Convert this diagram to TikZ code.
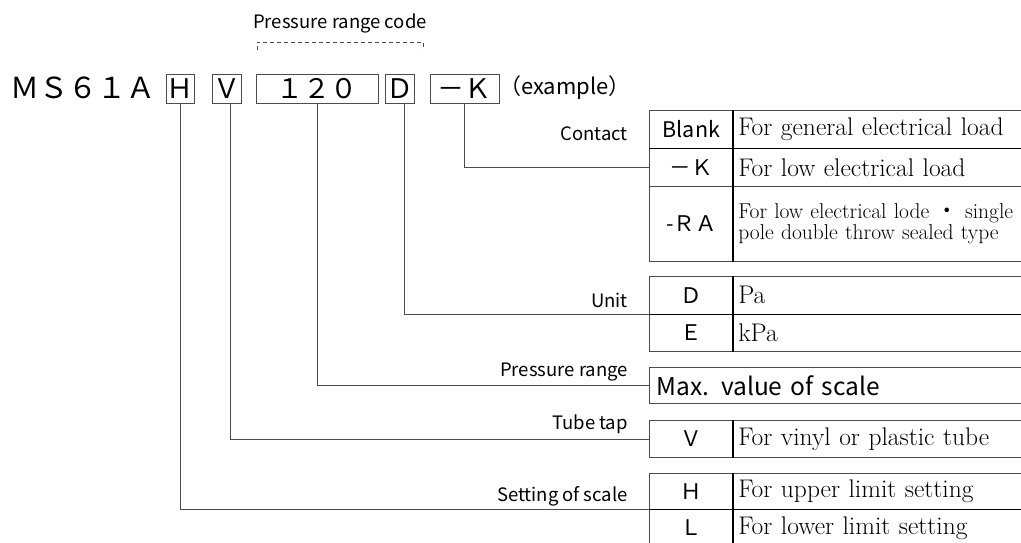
\documentclass[tikz,border=0pt]{standalone}
\usepackage{fontspec}
\setsansfont{Noto Sans CJK JP}
\newfontfamily\gothic{Noto Sans CJK JP}
\usetikzlibrary{positioning}

\tikzset{
  frame/.style={draw=black!70, line width=0.7pt},
  codebox/.style={frame, minimum height=29pt, inner sep=0pt, font=\gothic\fontsize{27}{27}\selectfont},
  lbl/.style={anchor=east, inner sep=0pt, font=\gothic\fontsize{18.5}{20}\selectfont},
  codecell/.style={frame, anchor=north west, minimum width=84pt, inner sep=0pt, font=\gothic\fontsize{21.5}{22}\selectfont},
  desccell/.style={frame, anchor=north west, minimum width=292pt, text width=282pt, inner xsep=5pt, inner ysep=0pt, align=left, font=\fontsize{25.5}{28}\selectfont},
  rowsep/.style={line width=1.4pt},
  leader/.style={draw=black!70, line width=0.7pt},
}

\begin{document}
\begin{tikzpicture}[x=1pt,y=-1pt]
\useasboundingbox (0,0) rectangle (1021,543);

% model code
\node[anchor=west, inner sep=0pt, font=\gothic\fontsize{29}{29}\selectfont] (model) at (10,88) {ＭＳ６１Ａ};
\node[codebox, minimum width=28pt] (hBox) at (180,88.5) {Ｈ};
\node[codebox, minimum width=29pt] (vBox) at (226.5,88.5) {Ｖ};
\node[codebox, minimum width=122pt] (rangeBox) at (317,88.5) {１２０};
\node[codebox, minimum width=29pt] (dBox) at (399.5,88.5) {Ｄ};
\node[codebox, minimum width=69pt] (kBox) at (464.5,88.5) {－Ｋ};
\node[anchor=west, inner sep=0pt, font=\gothic\fontsize{22}{22}\selectfont] (example) at (499,88) {（example）};

% pressure range code bracket
\coordinate (brL) at (257,50);
\coordinate (brR) at (423,50);
\draw[frame, dash pattern=on 4pt off 3pt] (brL) -- ++(0,-8) -| (brR);
\node[font=\gothic\fontsize{18.5}{20}\selectfont] (codeLbl) at (340,23) {Pressure range code};

% contact
\node[codecell, minimum height=38pt] (blankCode) at (649,110) {Blank};
\node[desccell, minimum height=38pt] (blankDesc) at (733,110) {For general electrical load};
\node[codecell, minimum height=38pt] (kCode) at (649,148) {－Ｋ};
\node[desccell, minimum height=38pt] (kDesc) at (733,148) {For low electrical load};
\node[codecell, minimum height=75pt] (raCode) at (649,186) {-ＲＡ};
\node[desccell, minimum height=75pt, font=\fontsize{21.5}{21}\selectfont] (raDesc) at (733,186) {For low electrical lode {\gothic ・} single\\pole double throw sealed type};
\draw[rowsep] (blankCode.south west) -- (blankDesc.south east);
\draw[rowsep] (blankDesc.north west) -- (raDesc.south west);

% unit
\node[codecell, minimum height=38pt] (dCode) at (649,276) {Ｄ};
\node[desccell, minimum height=38pt] (dDesc) at (733,276) {Pa};
\node[codecell, minimum height=37pt] (eCode) at (649,314) {Ｅ};
\node[desccell, minimum height=37pt] (eDesc) at (733,314) {kPa};
\draw[rowsep] (dCode.south west) -- (dDesc.south east);
\draw[rowsep] (dDesc.north west) -- (eDesc.south west);

% pressure range
\node[frame, anchor=north west, minimum width=376pt, minimum height=36pt, text width=362pt, inner xsep=7pt, inner ysep=0pt, align=left, font=\gothic\fontsize{24.5}{26}\selectfont] (maxCell) at (649,367) {Max. value of scale};

% tube tap
\node[codecell, minimum height=37pt] (vCode) at (649,420) {Ｖ};
\node[desccell, minimum height=37pt] (vDesc) at (733,420) {For vinyl or plastic tube};
\draw[rowsep] (vDesc.north west) -- (vDesc.south west);

% setting of scale
\node[codecell, minimum height=36pt] (hCode) at (649,473) {Ｈ};
\node[desccell, minimum height=36pt] (hDesc) at (733,473) {For upper limit setting};
\node[codecell, minimum height=37pt] (lCode) at (649,509) {Ｌ};
\node[desccell, minimum height=37pt] (lDesc) at (733,509) {For lower limit setting};
\draw[rowsep] (hCode.south west) -- (hDesc.south east);
\draw[rowsep] (hDesc.north west) -- (lDesc.south west);

% labels
\node[lbl] (contactLbl) at (628,134) {Contact};
\node[lbl] (unitLbl) at (628,300) {Unit};
\node[lbl] (rangeLbl) at (628,372) {Pressure range};
\node[lbl] (tubeLbl) at (628,424) {Tube tap};
\node[lbl] (scaleLbl) at (628,496) {Setting of scale};

% leaders
\draw[leader] (kBox.south) |- (kCode.west);
\draw[leader] ([xshift=4.5pt]dBox.south) |- (dCode.south west);
\draw[leader] (rangeBox.south) |- (maxCell.west);
\draw[leader] ([xshift=3.5pt]vBox.south) |- (vCode.west);
\draw[leader] (hBox.south) |- (hCode.south west);
\end{tikzpicture}
\end{document}
